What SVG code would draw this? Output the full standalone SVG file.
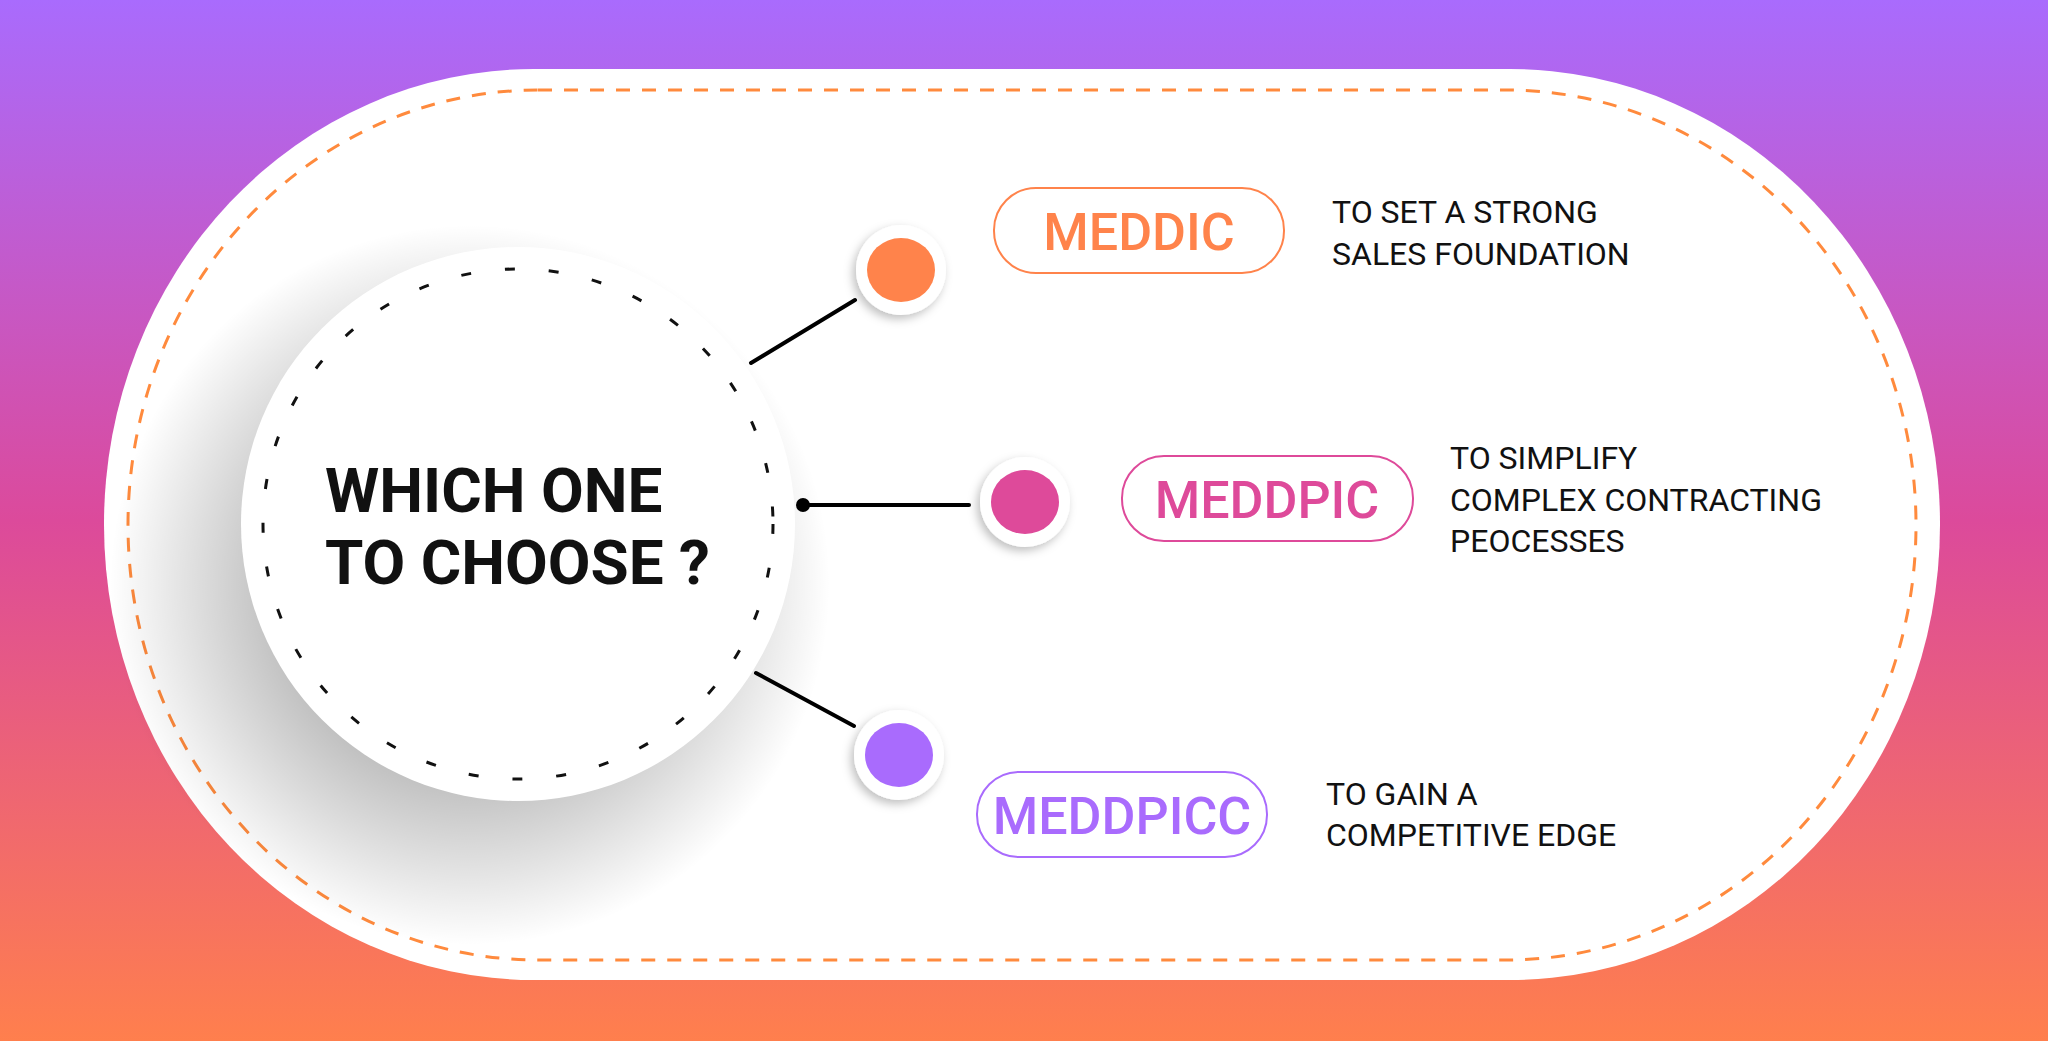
<svg xmlns="http://www.w3.org/2000/svg" width="2048" height="1041" viewBox="0 0 2048 1041">
<defs>
<linearGradient id="bg" x1="0" y1="0" x2="0" y2="1">
<stop offset="0" stop-color="#A96BFD"/><stop offset="0.5" stop-color="#DC4A9B"/><stop offset="1" stop-color="#FF7F4D"/>
</linearGradient>
<radialGradient id="sh" cx="0.5" cy="0.5" r="0.5">
<stop offset="0.55" stop-color="#000" stop-opacity="0.35"/><stop offset="1" stop-color="#000" stop-opacity="0"/>
</radialGradient>
<filter id="ds" x="-50%" y="-50%" width="200%" height="200%"><feDropShadow dx="-3" dy="4" stdDeviation="5" flood-opacity="0.25"/></filter>
</defs>
<style>
.pill{fill:#fff;stroke-width:2}
.lbl{font-family:Roboto,"Liberation Sans",sans-serif;font-weight:500;font-size:52px;text-anchor:middle}
.desc{font-family:Roboto,"Liberation Sans",sans-serif;font-size:32px;fill:#111}
.conn{stroke:#000;stroke-width:4;stroke-linecap:round}
</style>
<rect width="2048" height="1041" fill="url(#bg)"/>
<rect x="104" y="69" width="1836" height="911" rx="430" ry="455" fill="#fff"/>
<rect x="128" y="90" width="1788" height="870" rx="410" ry="435" fill="none" stroke="#FF8A3D" stroke-width="3" stroke-dasharray="14 12"/>
<g id="center">
<ellipse cx="470" cy="585" rx="360" ry="360" fill="url(#sh)" opacity="0.7"/>
<circle cx="518" cy="524" r="277" fill="#fff"/>
<circle cx="518" cy="524" r="255" fill="none" stroke="#111" stroke-width="3" stroke-dasharray="10 34"/>
<text font-family="Roboto,'Liberation Sans',sans-serif" font-weight="700" font-size="62" fill="#111"><tspan x="325" y="512">WHICH ONE</tspan><tspan x="325" y="584">TO CHOOSE ?</tspan></text>
</g>
<g id="connectors">
<line class="conn" x1="751" y1="363" x2="855" y2="300"/>
<line class="conn" x1="803" y1="505" x2="969" y2="505"/>
<circle cx="803" cy="505" r="7" fill="#000"/>
<line class="conn" x1="756" y1="673" x2="854" y2="726"/>
</g>
<g id="meddic">
<circle cx="901" cy="270" r="45" fill="#fff" filter="url(#ds)"/>
<ellipse cx="901" cy="270" rx="34" ry="32" fill="#FF834B"/>
<rect class="pill" x="994" y="188" width="290" height="85" rx="42" stroke="#FF834B"/>
<text class="lbl" x="1139" y="250" fill="#FF834B">MEDDIC</text>
<text class="desc"><tspan x="1332" y="223">TO SET A STRONG</tspan><tspan x="1332" y="265">SALES FOUNDATION</tspan></text>
</g>
<g id="meddpic">
<circle cx="1025" cy="502" r="45" fill="#fff" filter="url(#ds)"/>
<ellipse cx="1025" cy="502" rx="34" ry="32" fill="#DE4A9A"/>
<rect class="pill" x="1122" y="456" width="291" height="85" rx="42" stroke="#DE4A9A"/>
<text class="lbl" x="1267" y="518" fill="#DE4A9A">MEDDPIC</text>
<text class="desc"><tspan x="1450" y="469">TO SIMPLIFY</tspan><tspan x="1450" y="511">COMPLEX CONTRACTING</tspan><tspan x="1450" y="552">PEOCESSES</tspan></text>
</g>
<g id="meddpicc">
<circle cx="899" cy="755" r="45" fill="#fff" filter="url(#ds)"/>
<ellipse cx="899" cy="755" rx="34" ry="32" fill="#A96BFD"/>
<rect class="pill" x="977" y="772" width="290" height="85" rx="42" stroke="#A96BFD"/>
<text class="lbl" x="1122" y="834" fill="#A96BFD">MEDDPICC</text>
<text class="desc"><tspan x="1326" y="805">TO GAIN A</tspan><tspan x="1326" y="846">COMPETITIVE EDGE</tspan></text>
</g>
</svg>
